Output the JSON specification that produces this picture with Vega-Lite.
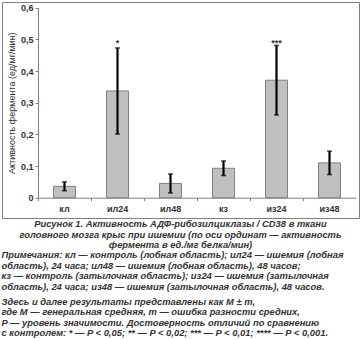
{
  "$schema": "https://vega.github.io/schema/vega-lite/v6.json",
  "padding": {"left": 1, "top": 1, "right": 1, "bottom": 0},
  "background": "white",
  "config": {
    "font": "Liberation Sans",
    "view": {"stroke": "#808080", "strokeWidth": 1},
    "concat": {"spacing": 0}
  },
  "title": {
    "text": [
      "Примечания: кл — контроль (лобная область); ил24 — ишемия (лобная",
      "область), 24 часа; ил48 — ишемия (лобная область), 48 часов;",
      "кз — контроль (затылочная область); из24 — ишемия (затылочная",
      "область), 24 часа; из48 — ишемия (затылочная область), 48 часов."
    ],
    "subtitle": [
      "Здесь и далее результаты представлены как M ± m,",
      "где M — генеральная средняя, m — ошибка разности средних,",
      "P — уровень значимости. Достоверность отличий по сравнению",
      "с контролем: * — P < 0,05; ** — P < 0,02; *** — P < 0,01; **** — P < 0,001."
    ],
    "orient": "bottom",
    "anchor": "start",
    "offset": 1,
    "font": "Liberation Sans",
    "fontSize": 9.4,
    "fontStyle": "italic",
    "fontWeight": "bold",
    "color": "#333333",
    "lineHeight": 10.7,
    "subtitleFont": "Liberation Sans",
    "subtitleFontSize": 9.4,
    "subtitleFontStyle": "italic",
    "subtitleFontWeight": "bold",
    "subtitleColor": "#333333",
    "subtitleLineHeight": 10.5,
    "subtitlePadding": 5
  },
  "vconcat": [
    {
      "width": 357,
      "height": 216,
      "title": {
        "text": [
          "Рисунок 1. Активность АДФ-рибозилциклазы / CD38 в ткани",
          "головного мозга крыс при ишемии (по оси ординат — активность",
          "фермента в ед./мг белка/мин)"
        ],
        "orient": "bottom",
        "anchor": "middle",
        "offset": 2,
        "font": "Liberation Sans",
        "fontSize": 9.4,
        "fontStyle": "italic",
        "fontWeight": "bold",
        "color": "#333333",
        "lineHeight": 10.6
      },
      "data": {
        "values": [
          {"group": "кл", "mean": 0.036, "err": 0.014, "sig": ""},
          {"group": "ил24", "mean": 0.337, "err": 0.136, "sig": "*"},
          {"group": "ил48", "mean": 0.045, "err": 0.03, "sig": ""},
          {"group": "кз", "mean": 0.093, "err": 0.023, "sig": ""},
          {"group": "из24", "mean": 0.371, "err": 0.11, "sig": "***"},
          {"group": "из48", "mean": 0.11, "err": 0.037, "sig": ""}
        ]
      },
      "encoding": {
        "x": {
          "field": "group",
          "type": "nominal",
          "sort": null,
          "scale": {"paddingInner": 0, "paddingOuter": 0, "range": [36, 354]},
          "axis": {
            "title": null,
            "orient": "bottom",
            "offset": -20.3,
            "bandPosition": 0,
            "labelAngle": 0,
            "labelFont": "Liberation Sans",
            "labelFontSize": 9,
            "labelFontWeight": "bold",
            "labelColor": "#333333",
            "labelPadding": 4,
            "tickSize": 3,
            "tickColor": "#808080",
            "domainColor": "#808080"
          }
        },
        "y": {
          "field": "mean",
          "type": "quantitative",
          "scale": {"domain": [0, 0.6], "nice": false, "range": [195.7, 5.7]},
          "axis": {
            "title": "Активность фермента (ед/мг/мин)",
            "offset": -36,
            "values": [0, 0.1, 0.2, 0.3, 0.4, 0.5, 0.6],
            "labelExpr": "datum.value == 0 ? '0' : replace(format(datum.value, '.1f'), '.', ',')",
            "grid": false,
            "labelFont": "Liberation Sans",
            "labelFontSize": 9,
            "labelFontWeight": "bold",
            "labelColor": "#333333",
            "labelPadding": 2,
            "tickSize": 3,
            "tickColor": "#808080",
            "domainColor": "#808080",
            "titleFont": "Liberation Sans",
            "titleFontSize": 9,
            "titleFontWeight": "normal",
            "titleColor": "#333333",
            "titlePadding": 4
          }
        }
      },
      "layer": [
        {
          "mark": {"type": "bar", "width": {"band": 0.415}, "fill": "#c0c0c0", "stroke": "#808080", "strokeWidth": 1}
        },
        {
          "mark": {
            "type": "errorbar",
            "color": "black",
            "rule": {"strokeWidth": 2.2, "color": "black"},
            "ticks": {"size": 5, "thickness": 1.5, "color": "black"}
          },
          "encoding": {
            "yError": {"field": "err"}
          }
        },
        {
          "mark": {"type": "text", "baseline": "top", "fontSize": 9, "fontWeight": "bold", "color": "#333333"},
          "encoding": {
            "y": {"datum": 0.5},
            "text": {"field": "sig"}
          }
        }
      ]
    }
  ]
}
